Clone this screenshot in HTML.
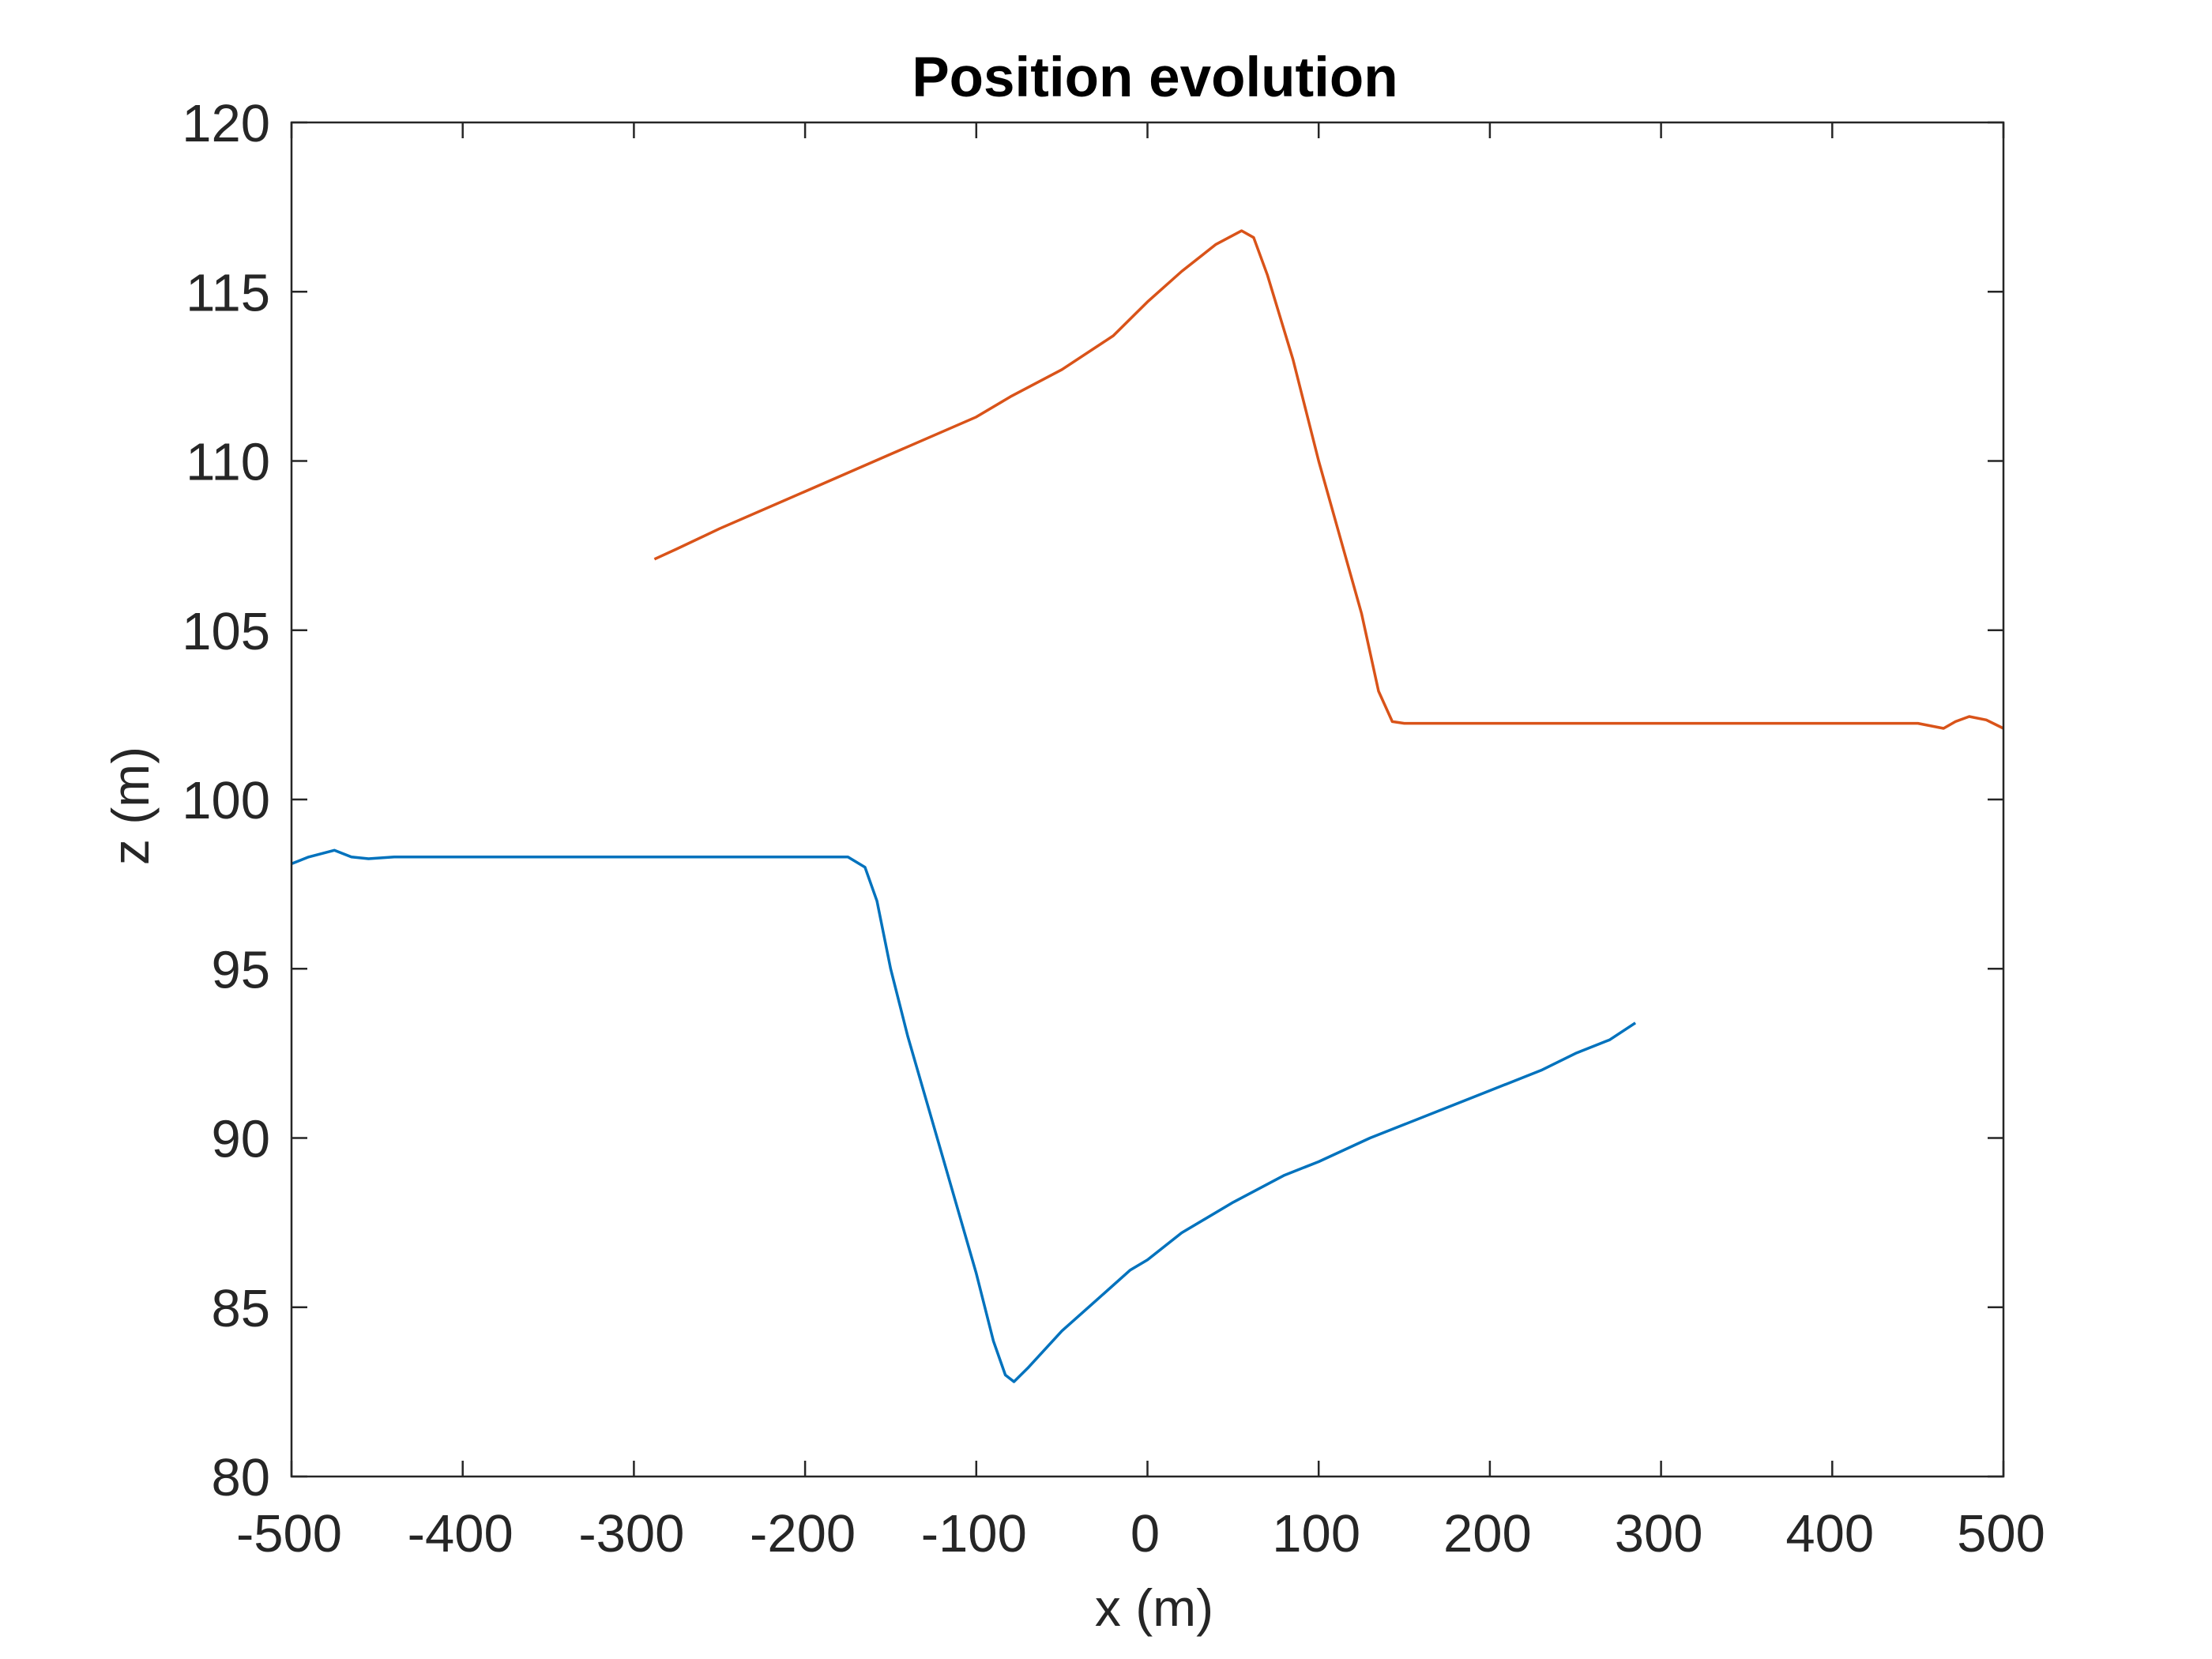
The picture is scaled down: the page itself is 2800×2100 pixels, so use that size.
<!DOCTYPE html>
<html><head><meta charset="utf-8"><style>
html,body{margin:0;padding:0;background:#fff;}
svg{display:block;font-family:"Liberation Sans",Arial,sans-serif;}
</style></head><body>
<svg id="chart" width="2800" height="2100" viewBox="0 0 2800 2100" xmlns="http://www.w3.org/2000/svg">
<rect x="0" y="0" width="2800" height="2100" fill="#fff"/>
<text x="1462" y="122" font-size="71" font-weight="bold" text-anchor="middle" fill="#000">Position evolution</text>
<text x="1461" y="2058" font-size="66" text-anchor="middle" fill="#262626">x (m)</text>
<text transform="translate(188,1020) rotate(-90)" font-size="66" text-anchor="middle" fill="#262626">z (m)</text>
<g id="ticks"></g>
<g id="series"></g>
<rect x="369" y="155" width="2167" height="1714" fill="none" stroke="#262626" stroke-width="2.5"/>
</svg>
<script>
const xTicks = [-500,-400,-300,-200,-100,0,100,200,300,400,500];
const yTicks = [80,85,90,95,100,105,110,115,120];
const blueX = [-500,-490,-475,-465,-455,-440,-300,-200,-175,-165,-158,-150,-140,-120,-100,-90,-83,-78,-70,-50,-30,-10,0,20,50,80,100,130,150,200,230,250,270,285];
const blueZ = [98.1,98.3,98.5,98.3,98.25,98.3,98.3,98.3,98.3,98.0,97,95,93,89.5,86,84,83,82.8,83.2,84.3,85.2,86.1,86.4,87.2,88.1,88.9,89.3,90.0,90.4,91.4,92.0,92.5,92.9,93.4];
const orangeX = [-288,-275,-250,-200,-150,-100,-80,-50,-20,0,20,40,55,62,70,85,100,115,125,135,143,150,200,300,400,450,465,472,480,490,500];
const orangeZ = [107.1,107.4,108,109.1,110.2,111.3,111.9,112.7,113.7,114.7,115.6,116.4,116.8,116.6,115.5,113,110,107.3,105.5,103.2,102.3,102.25,102.25,102.25,102.25,102.25,102.1,102.3,102.45,102.35,102.1];

const L=369,R=2536,T=155,B=1869;
const sx=v=>L+(v+500)/1000*(R-L);
const sy=v=>B-(v-80)/40*(B-T);
const NS="http://www.w3.org/2000/svg";
const tg=document.getElementById('ticks');
function mk(tag,attrs,parent){const e=document.createElementNS(NS,tag);for(const k in attrs)e.setAttribute(k,attrs[k]);parent.appendChild(e);return e;}
xTicks.forEach(v=>{
  const x=sx(v);
  const t1=mk('line',{x1:x,x2:x,y1:B,y2:B-20,stroke:'#262626','stroke-width':2.5},tg);
  
  
  const t2=mk('line',{x1:x,x2:x,y1:T,y2:T+20,stroke:'#262626','stroke-width':2.5},tg);
  
  
  const lb=mk('text',{x:x-3,y:1964,'font-size':67,'text-anchor':'middle',fill:'#262626'},tg);
  lb.textContent=v;
  
  
});
yTicks.forEach(v=>{
  const y=sy(v);
  const t1=mk('line',{x1:L,x2:L+20,y1:y,y2:y,stroke:'#262626','stroke-width':2.5},tg);
  
  
  const t2=mk('line',{x1:R,x2:R-20,y1:y,y2:y,stroke:'#262626','stroke-width':2.5},tg);
  
  
  const lb=mk('text',{x:342,y:y+24,'font-size':67,'text-anchor':'end',fill:'#262626'},tg);
  lb.textContent=v;
  
  
});
const sg=document.getElementById('series');
function line(xs,zs,color,name){
  const d=xs.map((x,i)=>(i?'L':'M')+sx(x).toFixed(1)+','+sy(zs[i]).toFixed(1)).join(' ');
  const p=mk('path',{d:d,fill:'none',stroke:color,'stroke-width':3.5,'stroke-linejoin':'round'},sg);
  
  
}
line(blueX,blueZ,'#0072BD','series-blue-line');
line(orangeX,orangeZ,'#D95319','series-orange-line');
</script>
</body></html>
